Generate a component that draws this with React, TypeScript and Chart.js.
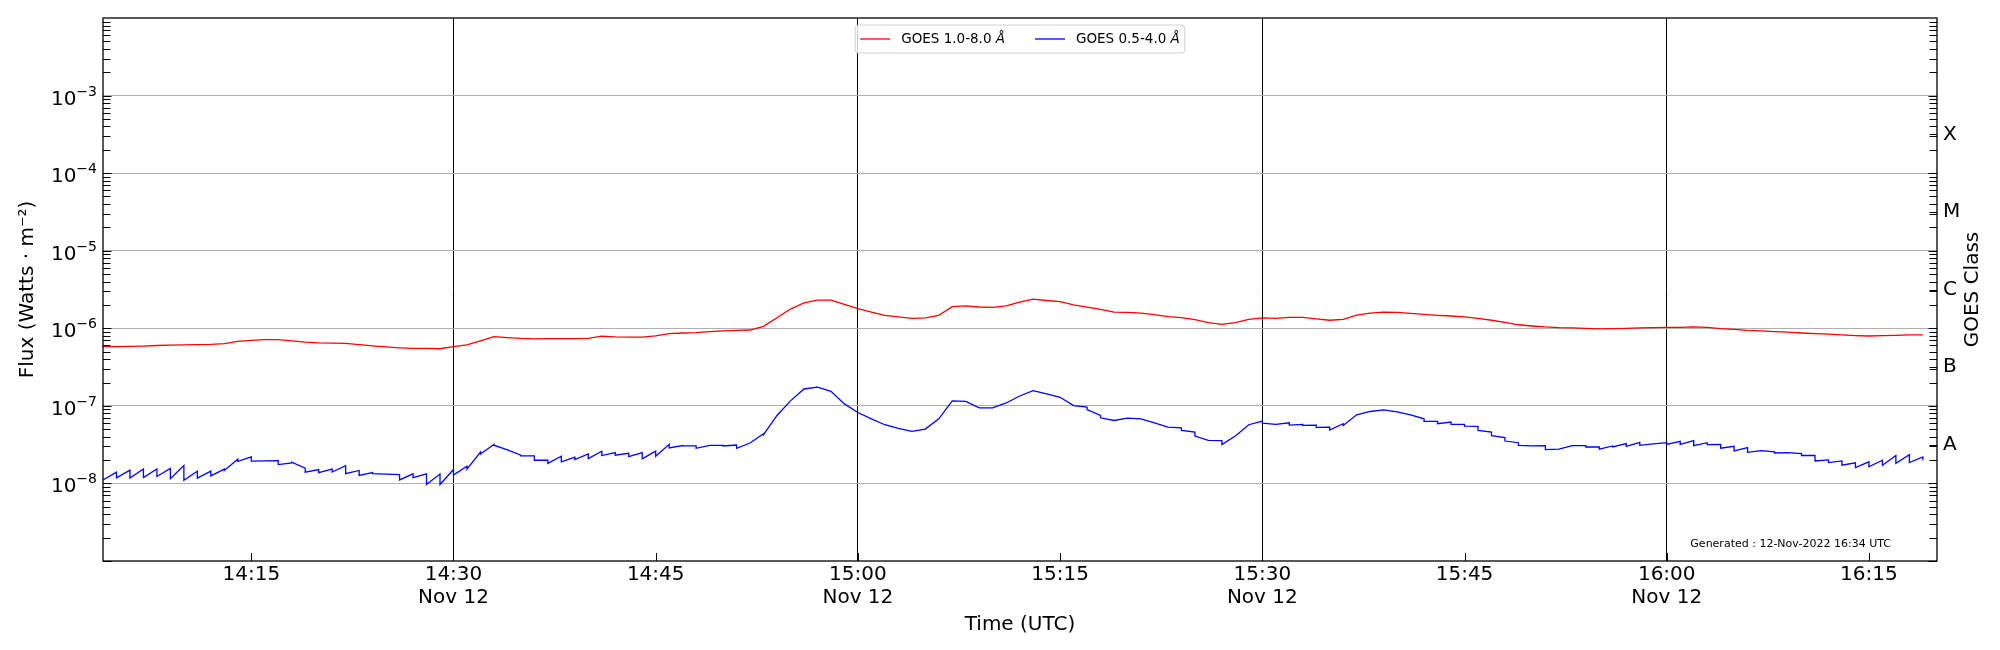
import { useEffect, useRef } from "react";
import { Chart, registerables } from "chart.js";
import type { Plugin } from "chart.js";

Chart.register(...registerables);

const FONT = "DejaVu Sans";

// x axis is in minutes after 14:00 UTC; one sample per minute from 14:04
const START_MINUTE = 4;

// GOES 1.0-8.0 Å flux (W/m²)
const longFlux = [
  5.8e-7, 5.8e-7, 5.85e-7, 5.9e-7, 6.0e-7, 6.05e-7, 6.1e-7, 6.15e-7, 6.2e-7, 6.35e-7,
  6.8e-7, 7.0e-7, 7.15e-7, 7.15e-7, 6.9e-7, 6.65e-7, 6.5e-7, 6.45e-7, 6.4e-7, 6.15e-7,
  5.95e-7, 5.75e-7, 5.6e-7, 5.5e-7, 5.5e-7, 5.45e-7, 5.8e-7, 6.1e-7, 6.9e-7, 7.8e-7,
  7.6e-7, 7.4e-7, 7.3e-7, 7.35e-7, 7.35e-7, 7.35e-7, 7.4e-7, 7.9e-7, 7.75e-7, 7.7e-7,
  7.7e-7, 8.0e-7, 8.55e-7, 8.7e-7, 8.8e-7, 9.05e-7, 9.25e-7, 9.4e-7, 9.5e-7, 1.06e-6,
  1.37e-6, 1.77e-6, 2.13e-6, 2.31e-6, 2.31e-6, 2.03e-6, 1.79e-6, 1.62e-6, 1.47e-6, 1.4e-6,
  1.34e-6, 1.36e-6, 1.47e-6, 1.9e-6, 1.95e-6, 1.88e-6, 1.86e-6, 1.95e-6, 2.18e-6, 2.38e-6,
  2.28e-6, 2.2e-6, 2.0e-6, 1.88e-6, 1.75e-6, 1.62e-6, 1.6e-6, 1.57e-6, 1.5e-6, 1.41e-6,
  1.37e-6, 1.29e-6, 1.18e-6, 1.12e-6, 1.18e-6, 1.3e-6, 1.36e-6, 1.34e-6, 1.38e-6, 1.38e-6,
  1.32e-6, 1.27e-6, 1.3e-6, 1.48e-6, 1.57e-6, 1.62e-6, 1.6e-6, 1.56e-6, 1.51e-6, 1.47e-6,
  1.44e-6, 1.4e-6, 1.34e-6, 1.27e-6, 1.19e-6, 1.11e-6, 1.07e-6, 1.04e-6, 1.02e-6, 1.01e-6,
  1.0e-6, 9.8e-7, 9.9e-7, 1.0e-6, 1.01e-6, 1.02e-6, 1.03e-6, 1.03e-6, 1.04e-6, 1.03e-6,
  9.9e-7, 9.7e-7, 9.4e-7, 9.25e-7, 9.05e-7, 8.9e-7, 8.7e-7, 8.55e-7, 8.4e-7, 8.2e-7,
  8.05e-7, 7.95e-7, 8.05e-7, 8.1e-7, 8.2e-7, 8.2e-7,
];

// GOES 0.5-4.0 Å flux (W/m²): value at the start of each minute ...
const shortOpen = [
  1.11e-8, 1.18e-8, 1.17e-8, 1.19e-8, 1.23e-8, 1.15e-8, 1.1e-8, 1.17e-8, 1.25e-8, 1.47e-8,
  1.92e-8, 1.94e-8, 1.95e-8, 1.75e-8, 1.88e-8, 1.4e-8, 1.38e-8, 1.4e-8, 1.34e-8, 1.27e-8,
  1.34e-8, 1.32e-8, 1.11e-8, 1.19e-8, 0.97e-8, 0.97e-8, 1.28e-8, 1.53e-8, 2.4e-8, 3.11e-8,
  2.71e-8, 2.27e-8, 1.99e-8, 1.81e-8, 1.9e-8, 2.03e-8, 2.09e-8, 2.29e-8, 2.31e-8, 2.22e-8,
  2.07e-8, 2.24e-8, 2.87e-8, 3.04e-8, 2.84e-8, 3.1e-8, 3.04e-8, 2.84e-8, 3.32e-8, 4.25e-8,
  7.52e-8, 1.16e-7, 1.65e-7, 1.74e-7, 1.54e-7, 1.06e-7, 8.21e-8, 6.81e-8, 5.71e-8, 5.12e-8,
  4.69e-8, 5.02e-8, 6.81e-8, 1.16e-7, 1.14e-7, 9.43e-8, 9.43e-8, 1.09e-7, 1.34e-7, 1.57e-7,
  1.43e-7, 1.29e-7, 1.01e-7, 8.97e-8, 7.02e-8, 6.48e-8, 6.95e-8, 6.81e-8, 6.05e-8, 5.33e-8,
  4.83e-8, 4.08e-8, 3.59e-8, 3.16e-8, 4.08e-8, 5.71e-8, 5.99e-8, 5.76e-8, 5.65e-8, 5.6e-8,
  5.27e-8, 4.88e-8, 5.6e-8, 7.67e-8, 8.46e-8, 8.89e-8, 8.38e-8, 7.67e-8, 6.3e-8, 5.88e-8,
  5.76e-8, 5.49e-8, 4.83e-8, 4.12e-8, 3.52e-8, 3.1e-8, 3.04e-8, 2.73e-8, 2.76e-8, 3.07e-8,
  2.95e-8, 2.76e-8, 2.95e-8, 3.01e-8, 3.1e-8, 3.23e-8, 3.19e-8, 3.19e-8, 3.07e-8, 3.16e-8,
  2.84e-8, 2.62e-8, 2.52e-8, 2.65e-8, 2.47e-8, 2.5e-8, 2.29e-8, 1.95e-8, 1.86e-8, 1.72e-8,
  1.6e-8, 1.64e-8, 1.72e-8, 1.82e-8, 1.86e-8, 1.99e-8,
];

// ... and just before the drop at the next minute
const shortClose = [
  1.4e-8, 1.48e-8, 1.54e-8, 1.54e-8, 1.56e-8, 1.7e-8, 1.44e-8, 1.44e-8, 1.53e-8, 2.05e-8,
  2.2e-8, 1.95e-8, 1.97e-8, 1.84e-8, 1.57e-8, 1.51e-8, 1.53e-8, 1.69e-8, 1.47e-8, 1.38e-8,
  1.32e-8, 1.3e-8, 1.33e-8, 1.33e-8, 1.32e-8, 1.51e-8, 1.67e-8, 2.53e-8, 3.17e-8, 2.71e-8,
  2.31e-8, 2.27e-8, 1.99e-8, 2.24e-8, 2.18e-8, 2.4e-8, 2.6e-8, 2.5e-8, 2.45e-8, 2.5e-8,
  2.6e-8, 3.19e-8, 3.07e-8, 3.04e-8, 3.1e-8, 3.1e-8, 3.13e-8, 3.32e-8, 4.38e-8, 7.52e-8,
  1.16e-7, 1.65e-7, 1.74e-7, 1.54e-7, 1.06e-7, 8.21e-8, 6.81e-8, 5.71e-8, 5.12e-8, 4.69e-8,
  5.02e-8, 6.81e-8, 1.16e-7, 1.14e-7, 9.43e-8, 9.43e-8, 1.09e-7, 1.34e-7, 1.57e-7, 1.43e-7,
  1.29e-7, 1.01e-7, 9.61e-8, 7.52e-8, 6.48e-8, 6.95e-8, 6.81e-8, 6.05e-8, 5.33e-8, 5.22e-8,
  4.6e-8, 3.59e-8, 3.56e-8, 4.08e-8, 5.71e-8, 6.36e-8, 5.76e-8, 6.05e-8, 5.76e-8, 5.65e-8,
  5.33e-8, 5.88e-8, 7.67e-8, 8.46e-8, 8.89e-8, 8.38e-8, 7.67e-8, 6.81e-8, 6.3e-8, 6.18e-8,
  5.76e-8, 5.44e-8, 4.6e-8, 3.89e-8, 3.35e-8, 3.04e-8, 3.07e-8, 2.76e-8, 3.07e-8, 3.07e-8,
  2.95e-8, 3.04e-8, 3.26e-8, 3.39e-8, 3.23e-8, 3.35e-8, 3.49e-8, 3.56e-8, 3.35e-8, 3.19e-8,
  3.01e-8, 2.89e-8, 2.65e-8, 2.55e-8, 2.5e-8, 2.42e-8, 2.29e-8, 2.01e-8, 1.95e-8, 1.84e-8,
  1.9e-8, 1.99e-8, 2.29e-8, 2.35e-8, 2.2e-8, null,
];

const xTickMinutes = [15, 30, 45, 60, 75, 90, 105, 120, 135];
const xTickLabels = [
  ["14:15"],
  ["14:30", "Nov 12"],
  ["14:45"],
  ["15:00", "Nov 12"],
  ["15:15"],
  ["15:30", "Nov 12"],
  ["15:45"],
  ["16:00", "Nov 12"],
  ["16:15"],
];
const markerMinutes = [30, 60, 90, 120];

const gridDecades = [1e-8, 1e-7, 1e-6, 1e-5, 1e-4, 1e-3];
const decadeExponents = ["−8", "−7", "−6", "−5", "−4", "−3"];
const classLabels = ["A", "B", "C", "M", "X"];
const classCenters = [3.162e-8, 3.162e-7, 3.162e-6, 3.162e-5, 3.162e-4];

const X_MIN = 4;
const X_MAX = 140.05;
const Y_MIN = 1e-9;
const Y_MAX = 1e-2;

// inward ticks, frame, y labels with superscripts, legend, right title
const goesDecor: Plugin<"line"> = {
  id: "goesDecor",
  afterDraw(chart) {
    const { ctx, chartArea: a } = chart;
    const x = chart.scales.x;
    const y = chart.scales.y;
    ctx.save();

    // log ticks on both sides
    ctx.strokeStyle = "#000";
    ctx.lineWidth = 1;
    ctx.beginPath();
    for (let d = -9; d < -2; d++) {
      for (let k = 1; k < 10; k++) {
        const p = Math.round(y.getPixelForValue(k * Math.pow(10, d))) + 0.5;
        const len = k === 1 ? 8.5 : 7.5;
        ctx.moveTo(a.left, p);
        ctx.lineTo(a.left + len, p);
        ctx.moveTo(a.right, p);
        ctx.lineTo(a.right - len, p);
      }
    }
    classCenters.forEach((v) => {
      const p = Math.round(y.getPixelForValue(v)) + 0.5;
      ctx.moveTo(a.right, p);
      ctx.lineTo(a.right - 7.5, p);
    });
    xTickMinutes.forEach((m) => {
      const p = Math.round(x.getPixelForValue(m)) + 0.5;
      ctx.moveTo(p, a.bottom);
      ctx.lineTo(p, a.bottom - 8);
    });
    ctx.stroke();

    // frame
    ctx.lineWidth = 1.3;
    ctx.strokeRect(a.left, a.top, a.right - a.left, a.bottom - a.top);

    // 10^n labels
    ctx.fillStyle = "#000";
    ctx.textAlign = "left";
    ctx.textBaseline = "alphabetic";
    gridDecades.forEach((v, i) => {
      const p = y.getPixelForValue(v);
      const exp = decadeExponents[i];
      ctx.font = `14px "${FONT}"`;
      const supW = ctx.measureText(exp).width;
      ctx.font = `20px "${FONT}"`;
      const baseW = ctx.measureText("10").width;
      const right = a.left - 6;
      ctx.fillText("10", right - supW - baseW, p + 9);
      ctx.font = `14px "${FONT}"`;
      ctx.fillText(exp, right - supW, p);
    });

    // right axis title
    ctx.font = `20px "${FONT}"`;
    ctx.textAlign = "center";
    ctx.textBaseline = "middle";
    ctx.translate(a.right + 36, (a.top + a.bottom) / 2);
    ctx.rotate(-Math.PI / 2);
    ctx.fillText("GOES Class", 0, 0);
    ctx.setTransform(1, 0, 0, 1, 0, 0);
    const dpr = chart.currentDevicePixelRatio;
    ctx.scale(dpr, dpr);

    // generated note
    ctx.font = `11px "${FONT}"`;
    ctx.textAlign = "right";
    ctx.fillText("Generated : 12-Nov-2022 16:34 UTC", a.right - 46, a.bottom - 17);

    // legend
    const legendFont = `13.5px "${FONT}"`;
    const legendItalic = `italic 13.5px "${FONT}"`;
    const items = chart.data.datasets.map((ds) => {
      const label = String(ds.label);
      const cut = label.lastIndexOf(" ") + 1;
      const main = label.slice(0, cut);
      const unit = label.slice(cut);
      ctx.font = legendFont;
      const mw = ctx.measureText(main).width;
      ctx.font = legendItalic;
      const uw = ctx.measureText(unit).width;
      return { main, unit, mw, w: mw + uw, color: String(ds.borderColor) };
    });
    const lineW = 30;
    const gap = 11;
    const spacing = 30;
    const pad = 5;
    const total =
      pad * 2 +
      items.reduce((s, it) => s + lineW + gap + it.w, 0) +
      spacing * (items.length - 1);
    const bx = (a.left + a.right) / 2 - total / 2;
    const by = a.top + 7;
    const bh = 28;
    const r = 3;
    ctx.beginPath();
    ctx.moveTo(bx + r, by);
    ctx.arcTo(bx + total, by, bx + total, by + bh, r);
    ctx.arcTo(bx + total, by + bh, bx, by + bh, r);
    ctx.arcTo(bx, by + bh, bx, by, r);
    ctx.arcTo(bx, by, bx + total, by, r);
    ctx.closePath();
    ctx.fillStyle = "rgba(255,255,255,0.8)";
    ctx.fill();
    ctx.strokeStyle = "#d0d0d0";
    ctx.lineWidth = 1;
    ctx.stroke();
    let cx = bx + pad;
    const cy = by + bh / 2;
    ctx.textAlign = "left";
    ctx.textBaseline = "middle";
    items.forEach((it) => {
      ctx.strokeStyle = it.color;
      ctx.lineWidth = 1.3;
      ctx.beginPath();
      ctx.moveTo(cx, cy);
      ctx.lineTo(cx + lineW, cy);
      ctx.stroke();
      cx += lineW + gap;
      ctx.fillStyle = "#000";
      ctx.font = legendFont;
      ctx.fillText(it.main, cx, cy);
      ctx.font = legendItalic;
      ctx.fillText(it.unit, cx + it.mw, cy);
      cx += it.w + spacing;
    });

    ctx.restore();
  },
};

export default function App() {
  const canvasRef = useRef<HTMLCanvasElement>(null);

  useEffect(() => {
    if (!canvasRef.current) return;

    const longPoints = longFlux.map((v, i) => ({ x: START_MINUTE + i, y: v }));
    const shortPoints: { x: number; y: number }[] = [];
    shortOpen.forEach((v, i) => {
      const t = START_MINUTE + i;
      shortPoints.push({ x: t, y: v });
      const c = shortClose[i];
      if (c != null) shortPoints.push({ x: t + 1, y: c });
    });

    const chart = new Chart(canvasRef.current, {
      type: "line",
      data: {
        datasets: [
          {
            label: "GOES 1.0-8.0 Å",
            data: longPoints,
            borderColor: "#ff0000",
            borderWidth: 1.3,
            pointRadius: 0,
            tension: 0,
            yAxisID: "y",
          },
          {
            label: "GOES 0.5-4.0 Å",
            data: shortPoints,
            borderColor: "#0000ff",
            borderWidth: 1.3,
            pointRadius: 0,
            tension: 0,
            yAxisID: "y",
          },
        ],
      },
      options: {
        animation: false,
        responsive: true,
        maintainAspectRatio: false,
        events: [],
        layout: { padding: { top: 15, left: 0, right: 0, bottom: 0 } },
        plugins: {
          legend: { display: false },
          tooltip: { enabled: false },
        },
        scales: {
          x: {
            type: "linear",
            min: X_MIN,
            max: X_MAX,
            afterBuildTicks: (scale) => {
              scale.ticks = xTickMinutes.map((v) => ({ value: v }));
            },
            afterFit: (scale) => {
              scale.height = 89;
            },
            border: { display: false },
            grid: {
              drawTicks: false,
              lineWidth: 1,
              color: (c) =>
                c.tick && markerMinutes.includes(c.tick.value) ? "#000000" : "rgba(0,0,0,0)",
            },
            ticks: {
              autoSkip: false,
              maxRotation: 0,
              padding: 2,
              color: "#000",
              font: { family: FONT, size: 20, lineHeight: 1.15 },
              callback: (_v, i) => xTickLabels[i],
            },
            title: {
              display: true,
              text: "Time (UTC)",
              color: "#000",
              font: { family: FONT, size: 20 },
              padding: { top: 0, bottom: 13 },
            },
          },
          y: {
            type: "logarithmic",
            position: "left",
            min: Y_MIN,
            max: Y_MAX,
            afterBuildTicks: (scale) => {
              scale.ticks = gridDecades.map((v) => ({ value: v }));
            },
            afterFit: (scale) => {
              scale.width = 103;
            },
            border: { display: false },
            grid: { drawTicks: false, color: "#b0b0b0", lineWidth: 1 },
            ticks: { display: false },
            title: {
              display: true,
              text: "Flux (Watts · m⁻²)",
              color: "#000",
              font: { family: FONT, size: 20 },
              padding: { top: 16, bottom: 0 },
            },
          },
          y2: {
            type: "logarithmic",
            position: "right",
            min: Y_MIN,
            max: Y_MAX,
            afterBuildTicks: (scale) => {
              scale.ticks = classCenters.map((v) => ({ value: v }));
            },
            afterFit: (scale) => {
              scale.width = 63;
            },
            border: { display: false },
            grid: { display: false, drawTicks: false },
            ticks: {
              autoSkip: false,
              padding: 6,
              color: "#000",
              font: { family: FONT, size: 20 },
              callback: (_v, i) => classLabels[i],
            },
          },
        },
      },
      plugins: [goesDecor],
    });

    return () => {
      chart.destroy();
    };
  }, []);

  return (
    <div
      style={{
        position: "absolute",
        left: 0,
        top: 0,
        width: "2000px",
        height: "650px",
        background: "#fff",
      }}
    >
      <canvas ref={canvasRef} />
    </div>
  );
}
